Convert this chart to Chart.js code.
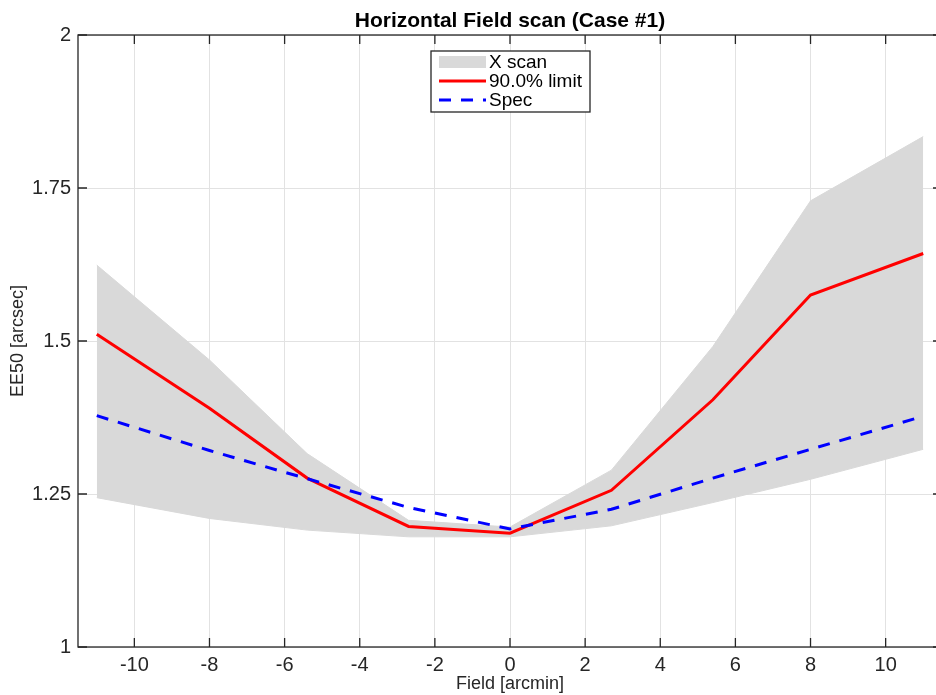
<!DOCTYPE html>
<html>
<head>
<meta charset="utf-8">
<script src="https://cdn.jsdelivr.net/npm/chart.js@4/dist/chart.umd.min.js"></script>
<style>
  body { margin: 0; background: #fff; }
  #wrap { width: 936px; height: 695px; overflow: hidden; }
</style>
</head>
<body>
<div id="wrap"><canvas id="myChart" width="952" height="695"></canvas></div>
<script>
// field positions [arcmin]
const fieldX = [-11, -8, -5.4, -2.7, 0, 2.7, 5.4, 8, 11];
// EE50 [arcsec]
const scanHigh = [1.624, 1.469, 1.316, 1.207, 1.196, 1.289, 1.491, 1.729, 1.834];
const scanLow = [1.244, 1.210, 1.191, 1.180, 1.180, 1.198, 1.236, 1.274, 1.323];
const limit90 = [1.511, 1.390, 1.276, 1.197, 1.186, 1.256, 1.404, 1.575, 1.643];
const spec = [1.378, 1.321, 1.275, 1.228, 1.193, 1.225, 1.276, 1.323, 1.377];

const xTicks = [-10, -8, -6, -4, -2, 0, 2, 4, 6, 8, 10];
const yTicks = [1, 1.25, 1.5, 1.75, 2];

const FONT = "'Liberation Sans', Arial, Helvetica, sans-serif";
const AXIS = "#262626";
const BAND = "#d9d9d9";

const pts = (ys) => fieldX.map((x, i) => ({ x: x, y: ys[i] }));

// box around the axes with inward ticks on all four sides
const frame = {
  id: "frame",
  afterDatasetsDraw(chart) {
    const { ctx, chartArea: a, scales } = chart;
    ctx.save();
    ctx.strokeStyle = AXIS;
    ctx.lineWidth = 1.3;
    ctx.strokeRect(a.left, a.top, a.right - a.left, a.bottom - a.top);
    const len = 9;
    ctx.beginPath();
    xTicks.forEach((v) => {
      const px = scales.x.getPixelForValue(v);
      ctx.moveTo(px, a.bottom); ctx.lineTo(px, a.bottom - len);
      ctx.moveTo(px, a.top); ctx.lineTo(px, a.top + len);
    });
    yTicks.forEach((v) => {
      const py = scales.y.getPixelForValue(v);
      ctx.moveTo(a.left, py); ctx.lineTo(a.left + len, py);
      ctx.moveTo(a.right, py); ctx.lineTo(a.right - len, py);
    });
    ctx.stroke();
    ctx.restore();
  },
  afterDraw(chart) {
    const { ctx, chartArea: a } = chart;
    ctx.save();
    // title
    ctx.fillStyle = "#000";
    ctx.font = "bold 21px " + FONT;
    ctx.textAlign = "center";
    ctx.textBaseline = "alphabetic";
    ctx.fillText("Horizontal Field scan (Case #1)", (a.left + a.right) / 2, 27);

    // legend box
    const bx = 431, by = 51, bw = 159, bh = 61;
    ctx.fillStyle = "#fff";
    ctx.fillRect(bx, by, bw, bh);
    ctx.strokeStyle = AXIS;
    ctx.lineWidth = 1.3;
    ctx.strokeRect(bx, by, bw, bh);

    const ds = chart.data.datasets;
    const rows = [ds[2], ds[1], ds[0]];
    const rowY = [62, 81, 100];
    const sx0 = 439, sx1 = 486;
    rows.forEach((d, i) => {
      const y = rowY[i];
      if (d.fill) {
        ctx.fillStyle = d.backgroundColor;
        ctx.fillRect(sx0, y - 6, sx1 - sx0, 12);
      } else {
        ctx.strokeStyle = d.borderColor;
        ctx.lineWidth = d.borderWidth;
        ctx.setLineDash(d.borderDash || []);
        ctx.beginPath();
        ctx.moveTo(sx0, y); ctx.lineTo(sx1, y);
        ctx.stroke();
        ctx.setLineDash([]);
      }
      ctx.fillStyle = "#000";
      ctx.font = "19px " + FONT;
      ctx.textAlign = "left";
      ctx.textBaseline = "middle";
      ctx.fillText(d.label, 489, y + 1);
    });
    ctx.restore();
  },
};

const ctx = document.querySelector("#myChart").getContext("2d");

new Chart(ctx, {
  type: "line",
  data: {
    datasets: [
      {
        label: "Spec",
        data: pts(spec),
        borderColor: "#0000ff",
        borderWidth: 3,
        borderDash: [12, 10],
        pointRadius: 0,
        fill: false,
      },
      {
        label: "90.0% limit",
        data: pts(limit90),
        borderColor: "#ff0000",
        borderWidth: 3,
        pointRadius: 0,
        fill: false,
      },
      {
        label: "X scan",
        data: pts(scanHigh),
        borderColor: BAND,
        backgroundColor: BAND,
        borderWidth: 1,
        pointRadius: 0,
        fill: "+1",
      },
      {
        label: "X scan low",
        data: pts(scanLow),
        borderColor: BAND,
        backgroundColor: BAND,
        borderWidth: 1,
        pointRadius: 0,
        fill: false,
      },
    ],
  },
  options: {
    responsive: false,
    animation: false,
    layout: { padding: { top: 35, right: 10, left: 0, bottom: 0 } },
    elements: { line: { tension: 0 } },
    plugins: {
      legend: { display: false },
      tooltip: { enabled: false },
    },
    scales: {
      x: {
        type: "linear",
        min: -11.5,
        max: 11.5,
        afterBuildTicks: (s) => { s.ticks = xTicks.map((v) => ({ value: v })); },
        afterFit: (s) => { s.height = 48; },
        grid: { color: "#e2e2e2", lineWidth: 1, drawTicks: false },
        border: { display: false },
        ticks: {
          color: AXIS,
          padding: 6,
          font: { family: FONT, size: 20 },
          maxRotation: 0,
          callback: (v) => String(v),
        },
        title: {
          display: true,
          text: "Field [arcmin]",
          color: AXIS,
          font: { family: FONT, size: 18 },
          padding: { top: 0, bottom: 0 },
        },
      },
      y: {
        min: 1,
        max: 2,
        afterBuildTicks: (s) => { s.ticks = yTicks.map((v) => ({ value: v })); },
        afterFit: (s) => { s.width = 78; },
        grid: { color: "#e2e2e2", lineWidth: 1, drawTicks: false },
        border: { display: false },
        ticks: {
          color: AXIS,
          padding: 7,
          font: { family: FONT, size: 20 },
          callback: (v) => String(v),
        },
        title: {
          display: true,
          text: "EE50 [arcsec]",
          color: AXIS,
          font: { family: FONT, size: 18 },
          padding: { top: 7, bottom: 0 },
        },
      },
    },
  },
  plugins: [frame],
});
</script>
</body>
</html>
